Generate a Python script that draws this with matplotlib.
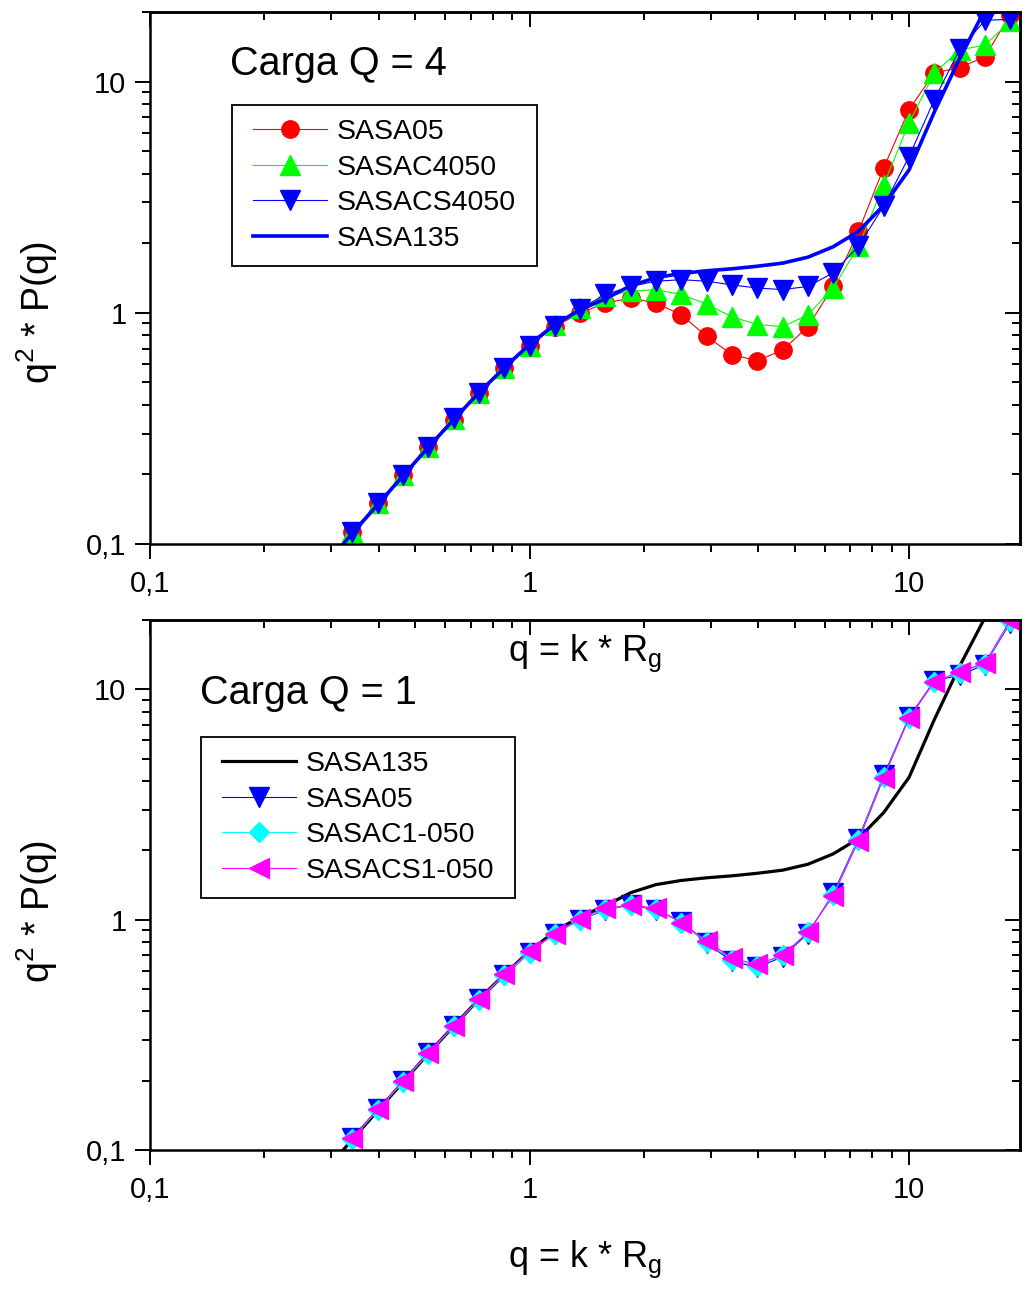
import matplotlib
matplotlib.use("Agg")
import matplotlib.pyplot as plt
from matplotlib.path import Path
from matplotlib.ticker import FixedLocator, LogLocator, FuncFormatter, NullFormatter

plt.rcParams['font.family'] = ['Liberation Sans', 'DejaVu Sans']
plt.rcParams['mathtext.default'] = 'regular'

# q = k * Rg grid shared by all simulated series
q = [0.341, 0.398, 0.464, 0.541, 0.631, 0.736, 0.858, 1.0, 1.166, 1.359,
     1.585, 1.848, 2.154, 2.512, 2.929, 3.415, 3.981, 4.642, 5.412, 6.310,
     7.356, 8.577, 10.0, 11.66, 13.59, 15.85, 18.48]
# reference curve starts one step earlier
q_135 = [0.293] + q

sasa135 = [0.083, 0.111, 0.148, 0.197, 0.262, 0.345, 0.452, 0.578, 0.73, 0.89,
           1.03, 1.15, 1.31, 1.42, 1.48, 1.52, 1.55, 1.59, 1.64, 1.74,
           1.93, 2.25, 2.92, 4.15, 7.4, 12.6, 20.5, 32.0]
sasa05 = [0.113, 0.150, 0.199, 0.263, 0.344, 0.451, 0.578, 0.72, 0.87, 1.00,
          1.10, 1.16, 1.10, 0.98, 0.79, 0.66, 0.62, 0.69, 0.87, 1.30,
          2.25, 4.24, 7.57, 10.9, 11.5, 12.8, 19.5]
sasac4050 = [0.113, 0.150, 0.199, 0.264, 0.347, 0.452, 0.578, 0.72, 0.89, 1.05,
             1.18, 1.24, 1.26, 1.20, 1.09, 0.96, 0.89, 0.87, 0.98, 1.28,
             1.94, 3.58, 6.64, 10.9, 13.7, 14.4, 18.2]
sasacs4050 = [0.113, 0.150, 0.199, 0.264, 0.350, 0.452, 0.576, 0.72, 0.88, 1.04,
              1.20, 1.30, 1.37, 1.39, 1.37, 1.32, 1.28, 1.26, 1.30, 1.49,
              1.94, 2.90, 4.74, 8.36, 13.8, 18.4, 18.6]
sasac1_050 = [0.112, 0.149, 0.198, 0.262, 0.345, 0.450, 0.575, 0.72, 0.87, 1.00,
              1.11, 1.16, 1.11, 0.97, 0.80, 0.67, 0.63, 0.70, 0.88, 1.28,
              2.22, 4.18, 7.5, 10.8, 11.8, 12.9, 19.8]
sasacs1_050 = [0.113, 0.150, 0.200, 0.264, 0.347, 0.453, 0.580, 0.73, 0.87, 1.01,
               1.12, 1.16, 1.12, 0.97, 0.81, 0.68, 0.64, 0.70, 0.88, 1.27,
               2.20, 4.14, 7.5, 10.8, 11.9, 13.0, 20.0]

tick_vals = [0.1, 1, 10]
tick_text = ['0,1', '1', '10']

W, H = 1029, 1297
fig = plt.figure(figsize=(W / 100, H / 100), dpi=100)
ax1 = fig.add_axes([150 / W, (H - 544) / H, 870 / W, 532 / H])
ax2 = fig.add_axes([150 / W, (H - 1150) / H, 870 / W, 530 / H])
# keep the upper panel (and its x label, which sits over the lower one) on top
ax1.set_zorder(3)
ax2.set_zorder(1)


def label_fmt(v, pos):
    for t, s in zip(tick_vals, tick_text):
        if abs(v - t) < 1e-9 * max(t, 1):
            return s
    return ''


def style(ax):
    ax.set_xscale('log')
    ax.set_yscale('log')
    ax.set_xlim(0.1, 19.6)
    ax.set_ylim(0.1, 20)
    for s in ax.spines.values():
        s.set_linewidth(1.8)
    for axis in (ax.xaxis, ax.yaxis):
        axis.set_major_locator(FixedLocator(tick_vals))
        axis.set_minor_locator(LogLocator(base=10, subs=range(2, 10), numticks=20))
        axis.set_major_formatter(FuncFormatter(label_fmt))
        axis.set_minor_formatter(NullFormatter())
    ax.tick_params(which='both', direction='out', width=1.4, labelsize=21,
                   top=False, right=False)
    ax.tick_params(which='major', length=11)
    ax.tick_params(which='minor', length=5.5)
    ax.tick_params(axis='x', which='major', pad=8)
    ax.tick_params(axis='y', which='major', pad=6)

    # inward ticks on the opposite sides
    sx = ax.secondary_xaxis('top')
    sy = ax.secondary_yaxis('right')
    for sec, axis in ((sx, sx.xaxis), (sy, sy.yaxis)):
        axis.set_major_locator(FixedLocator(tick_vals))
        axis.set_minor_locator(LogLocator(base=10, subs=range(2, 10), numticks=20))
        axis.set_major_formatter(NullFormatter())
        axis.set_minor_formatter(NullFormatter())
        sec.tick_params(which='both', direction='in', width=1.4)
        sec.tick_params(which='major', length=11)
        sec.tick_params(which='minor', length=5.5)
        for s in sec.spines.values():
            s.set_linewidth(1.8)


style(ax1)
style(ax2)

thin = 0.8
# Q = 4 panel
ax1.plot(q, sasa05, color='#ff0000', lw=thin, marker='o', ms=12.5, mec='#ff0000',
         label='SASA05')
ax1.plot(q, sasac4050, color='#00ff00', lw=thin, marker='^', ms=14, mec='#00ff00',
         label='SASAC4050')
ax1.plot(q, sasacs4050, color='#0000ff', lw=thin, marker='v', ms=14, mec='#0000ff',
         label='SASACS4050')
ax1.plot(q_135, sasa135, color='#0000ff', lw=2.6, label='SASA135')

# Q = 1 panel
ax2.plot(q_135, sasa135, color='black', lw=2.3, label='SASA135')
ax2.plot(q, sasa05, color='#0000ff', lw=thin, marker='v', ms=14, mec='#0000ff',
         label='SASA05')
ax2.plot(q, sasac1_050, color='#00ffff', lw=thin, marker='D', ms=10, mec='#00ffff',
         label='SASAC1-050')
ax2.plot(q, sasacs1_050, color='#ff00ff', lw=thin, marker='<', ms=14, mec='#ff00ff',
         label='SASACS1-050')


def wide_box(x0, y0, width, height, mutation_size):
    # square frame with a little extra room left and right
    dx = 0.25 * mutation_size
    x0 -= dx
    width += 2 * dx
    return Path([(x0, y0), (x0 + width, y0), (x0 + width, y0 + height),
                 (x0, y0 + height), (x0, y0)], closed=True)


leg_kw = dict(loc='upper left', borderaxespad=0, fontsize=20.5, frameon=True,
              fancybox=False, framealpha=1, edgecolor='black', borderpad=0.5,
              handlelength=2.6, handletextpad=0.32, labelspacing=0.33)
lg1 = ax1.legend(bbox_to_anchor=(0.1023, 0.825), **leg_kw)
lg2 = ax2.legend(bbox_to_anchor=(0.0667, 0.779), **leg_kw)
for lg in (lg1, lg2):
    lg.get_frame().set_linewidth(1.3)
    lg.get_frame().set_boxstyle(wide_box)

ax1.text(0.092, 0.903, 'Carga Q = 4', transform=ax1.transAxes, fontsize=28.5,
         ha='left', va='center')
ax2.text(0.057, 0.863, 'Carga Q = 1', transform=ax2.transAxes, fontsize=28.5,
         ha='left', va='center')

for ax, ylab_y in ((ax1, 0.436), (ax2, 0.449)):
    ax.set_xlabel('q = k * R$_g$', fontsize=26)
    ax.xaxis.set_label_coords(0.5, -0.167)
    ax.set_ylabel('q$^2$ * P(q)', fontsize=27)
    ax.yaxis.set_label_coords(-0.103, ylab_y)

fig.savefig('out.png', dpi=100)
